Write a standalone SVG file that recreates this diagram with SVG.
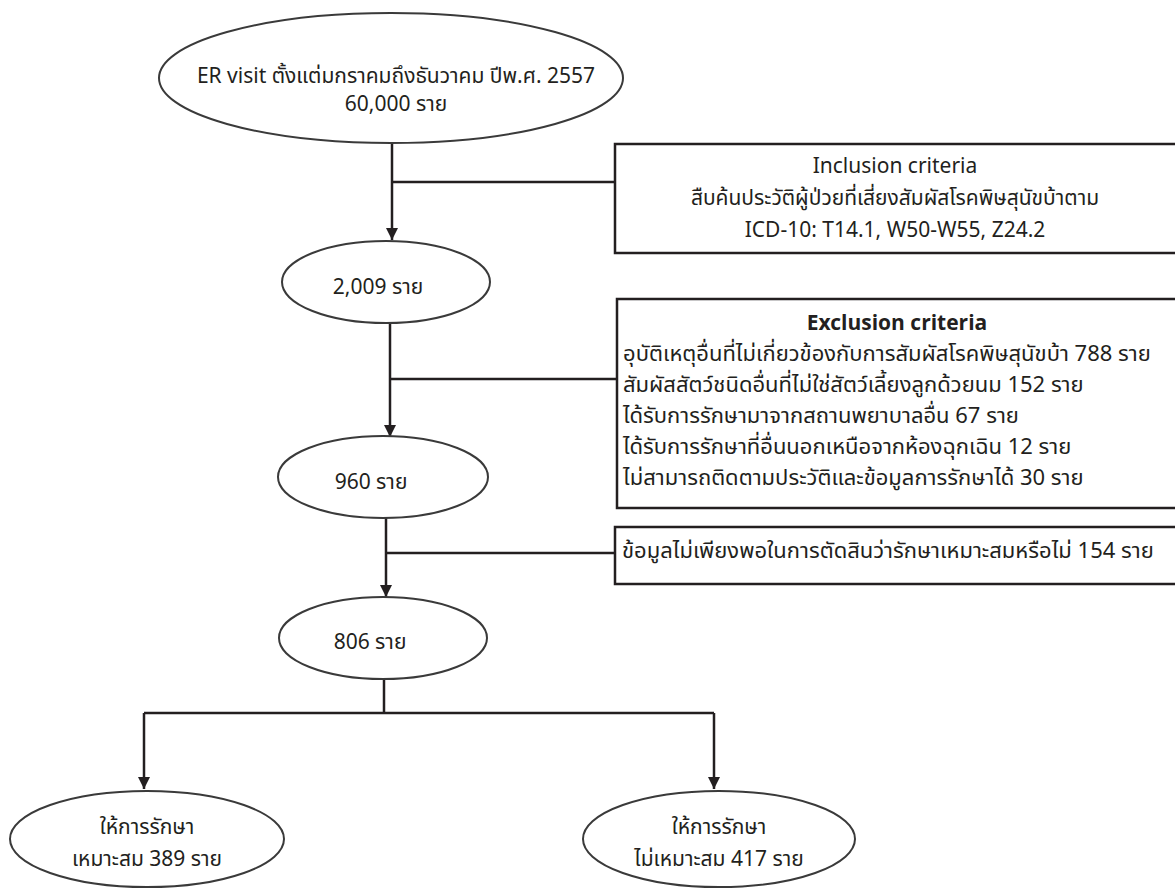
<svg xmlns="http://www.w3.org/2000/svg" width="1175" height="889" viewBox="0 0 1175 889">
<style>
.bg{fill:#ffffff}
.ell{fill:#ffffff;stroke:#3a3a3a;stroke-width:2}
.box{fill:#ffffff;stroke:#231f20;stroke-width:2.5}
.ln{fill:none;stroke:#231f20;stroke-width:2.5}
text{font-family:"Noto Sans Thai","Noto Sans","DejaVu Sans",sans-serif;font-size:21px;fill:#231f20}
.t{font-size:22px}
.c{text-anchor:middle}
.b{font-weight:bold}
</style>
<defs>
<marker id="arr" viewBox="0 0 10 10" refX="10" refY="5" markerWidth="5" markerHeight="5.5" orient="auto" markerUnits="strokeWidth">
<path d="M0,0 L10,5 L0,10 z" fill="#231f20"/>
</marker>
</defs>
<rect class="bg" x="0" y="0" width="1175" height="889"/>
<g id="connectors">
<path class="ln" d="M392,143 V240" marker-end="url(#arr)"/>
<path class="ln" d="M392,182 H615"/>
<path class="ln" d="M390,323 V437" marker-end="url(#arr)"/>
<path class="ln" d="M390,379 H617"/>
<path class="ln" d="M386,518 V597" marker-end="url(#arr)"/>
<path class="ln" d="M386,553 H615"/>
<path class="ln" d="M384,679 V713"/>
<path class="ln" d="M144,713 H714"/>
<path class="ln" d="M144,713 V789" marker-end="url(#arr)"/>
<path class="ln" d="M714,713 V789" marker-end="url(#arr)"/>
</g>
<g id="n-er">
<ellipse class="ell" cx="391" cy="78" rx="232" ry="65"/>
<text class="c" x="396" y="83">ER visit ตั้งแต่มกราคมถึงธันวาคม ปีพ.ศ. 2557</text>
<text class="c" x="396" y="111">60,000 ราย</text>
</g>
<g id="n-inclusion">
<rect class="box" x="615" y="144" width="570" height="109"/>
<text class="c" x="895" y="173">Inclusion criteria</text>
<text class="c" x="895" y="205">สืบค้นประวัติผู้ป่วยที่เสี่ยงสัมผัสโรคพิษสุนัขบ้าตาม</text>
<text class="c" x="895" y="237">ICD-10: T14.1, W50-W55, Z24.2</text>
</g>
<g id="n-2009">
<ellipse class="ell" cx="386" cy="282" rx="104" ry="41"/>
<text class="c" x="378" y="294">2,009 ราย</text>
</g>
<g id="n-exclusion">
<rect class="box" x="617" y="299" width="570" height="209"/>
<text class="c b" x="897" y="330">Exclusion criteria</text>
<text class="t" x="623" y="361">อุบัติเหตุอื่นที่ไม่เกี่ยวข้องกับการสัมผัสโรคพิษสุนัขบ้า 788 ราย</text>
<text class="t" x="623" y="392">สัมผัสสัตว์ชนิดอื่นที่ไม่ใช่สัตว์เลี้ยงลูกด้วยนม 152 ราย</text>
<text class="t" x="623" y="423">ได้รับการรักษามาจากสถานพยาบาลอื่น 67 ราย</text>
<text class="t" x="623" y="454">ได้รับการรักษาที่อื่นนอกเหนือจากห้องฉุกเฉิน 12 ราย</text>
<text class="t" x="623" y="485">ไม่สามารถติดตามประวัติและข้อมูลการรักษาได้ 30 ราย</text>
</g>
<g id="n-960">
<ellipse class="ell" cx="383" cy="477" rx="105" ry="41"/>
<text class="c" x="371" y="489">960 ราย</text>
</g>
<g id="n-insufficient">
<rect class="box" x="615" y="527" width="570" height="57"/>
<text class="t" x="622" y="558">ข้อมูลไม่เพียงพอในการตัดสินว่ารักษาเหมาะสมหรือไม่ 154 ราย</text>
</g>
<g id="n-806">
<ellipse class="ell" cx="383" cy="638" rx="104" ry="41"/>
<text class="c" x="370" y="649">806 ราย</text>
</g>
<g id="n-appropriate">
<ellipse class="ell" cx="147" cy="839" rx="137" ry="48"/>
<text class="c" x="147" y="834">ให้การรักษา</text>
<text class="c" x="147" y="866">เหมาะสม 389 ราย</text>
</g>
<g id="n-inappropriate">
<ellipse class="ell" cx="719" cy="839" rx="136" ry="48"/>
<text class="c" x="719" y="834">ให้การรักษา</text>
<text class="c" x="719" y="866">ไม่เหมาะสม 417 ราย</text>
</g>
</svg>
